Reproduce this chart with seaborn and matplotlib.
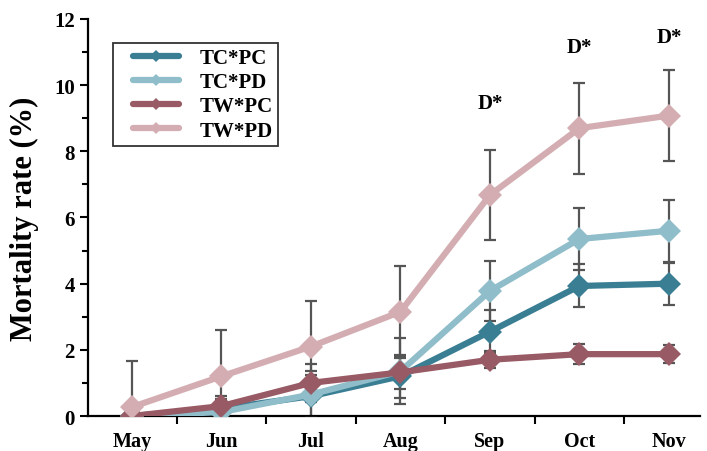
import numpy as np
import pandas as pd
import matplotlib
matplotlib.use("Agg")
import matplotlib.pyplot as plt
import seaborn as sns
from matplotlib.ticker import MultipleLocator, FixedLocator
from matplotlib.lines import Line2D
from matplotlib.legend_handler import HandlerLine2D

months = ["May", "Jun", "Jul", "Aug", "Sep", "Oct", "Nov"]
series = ["TC*PC", "TC*PD", "TW*PC", "TW*PD"]

tc_pc = [0.0, 0.22, 0.60, 1.20, 2.55, 3.93, 4.00]
tc_pd = [0.0, 0.12, 0.65, 1.35, 3.78, 5.35, 5.60]
tw_pc = [0.0, 0.30, 1.00, 1.32, 1.70, 1.87, 1.87]
tw_pd = [0.27, 1.20, 2.10, 3.15, 6.68, 8.70, 9.08]

tc_pc_err = [0.0, 0.40, 0.65, 0.65, 0.65, 0.65, 0.63]
tc_pd_err = [0.0, 0.40, 0.70, 1.00, 0.90, 0.93, 0.93]
tw_pc_err = [0.0, 0.00, 0.57, 0.50, 0.25, 0.30, 0.28]
tw_pd_err = [1.38, 1.39, 1.39, 1.39, 1.37, 1.38, 1.38]

annot_months = ["Sep", "Oct", "Nov"]
annot_y = [9.45, 11.15, 11.45]
annot_text = ["D*", "D*", "D*"]

colors = {"TC*PC": "#3a7e93", "TC*PD": "#8fbdc9", "TW*PC": "#985a64", "TW*PD": "#d3adb1"}

vals = {"TC*PC": tc_pc, "TC*PD": tc_pd, "TW*PC": tw_pc, "TW*PD": tw_pd}
errs = {"TC*PC": tc_pc_err, "TC*PD": tc_pd_err, "TW*PC": tw_pc_err, "TW*PD": tw_pd_err}

rows = []
for s in series:
    for i, m in enumerate(months):
        rows.append({"month": m, "x": i, "group": s, "rate": vals[s][i], "err": errs[s][i]})
df = pd.DataFrame(rows)

sns.set_style("ticks")
plt.rcParams["font.family"] = ["Liberation Serif", "DejaVu Serif"]
plt.rcParams["font.weight"] = "bold"
plt.rcParams["text.color"] = "black"
plt.rcParams["axes.labelcolor"] = "black"
plt.rcParams["xtick.color"] = "black"
plt.rcParams["ytick.color"] = "black"

fig = plt.figure(figsize=(7.07, 4.52), dpi=100)
ax = fig.add_axes([0.1245, 0.0774, 0.866, 0.8784])

for s in series:
    sub = df[df.group == s]
    ax.errorbar(sub.x, sub.rate, yerr=sub.err, fmt="none", ecolor="#555555",
                elinewidth=1.6, capsize=4.5, capthick=1.6, zorder=1)

sns.lineplot(data=df, x="x", y="rate", hue="group", hue_order=series,
             palette=colors, marker="D", markersize=12, linewidth=4.5,
             markeredgewidth=0, dashes=False, ax=ax, legend=False)

for ln in ax.lines:
    ln.set_zorder(3)

for m, y, t in zip(annot_months, annot_y, annot_text):
    ax.text(months.index(m), y, t, ha="center", va="center", fontsize=15,
            fontweight="bold", color="black")

ax.set_xlim(-0.49, 6.35)
ax.set_ylim(0, 12)
ax.xaxis.set_major_locator(FixedLocator(np.arange(0.5, 6.5, 1.0)))
ax.xaxis.set_major_formatter(plt.NullFormatter())
ax.xaxis.set_minor_locator(FixedLocator(np.arange(0, 7)))
ax.xaxis.set_minor_formatter(plt.FixedFormatter(months))
ax.tick_params(axis="x", which="major", direction="out", length=6, width=1.5)
ax.tick_params(axis="x", which="minor", length=0, pad=11, labelsize=14.5)
for lbl in ax.get_xticklabels(minor=True):
    lbl.set_fontweight("bold")

ax.yaxis.set_major_locator(MultipleLocator(2))
ax.yaxis.set_minor_locator(MultipleLocator(1))
ax.tick_params(axis="y", which="major", direction="out", length=6, width=1.5, labelsize=15)
ax.tick_params(axis="y", which="minor", direction="out", length=4, width=1.5)
for lbl in ax.get_yticklabels():
    lbl.set_fontweight("bold")

ax.set_xlabel("")
ax.set_ylabel("Mortality rate (%)", fontsize=22, fontweight="bold", labelpad=11)

sns.despine(ax=ax)
for sp in ["left", "bottom"]:
    ax.spines[sp].set_linewidth(1.6)
    ax.spines[sp].set_color("black")


class ShiftHandler(HandlerLine2D):
    def create_artists(self, legend, orig_handle, xdescent, ydescent, width,
                       height, fontsize, trans):
        shift = 0.75 * fontsize
        return super().create_artists(legend, orig_handle, xdescent - shift,
                                      ydescent, width - shift, height,
                                      fontsize, trans)


handles = [Line2D([0], [0], color=colors[s], linewidth=4.5, marker="D",
                  markersize=6, markeredgewidth=0) for s in series]
leg = ax.legend(handles, series, loc="upper left", bbox_to_anchor=(0.04, 0.94),
                frameon=True, fancybox=False, edgecolor="black",
                prop={"weight": "bold", "size": 15}, handlelength=2.95,
                labelspacing=0.2, borderpad=0.25, handletextpad=1.0,
                borderaxespad=0.0, handler_map={Line2D: ShiftHandler()})
leg.get_frame().set_linewidth(1.3)
for t in leg.get_texts():
    t.set_color("black")

fig.savefig("out.png", dpi=100)
